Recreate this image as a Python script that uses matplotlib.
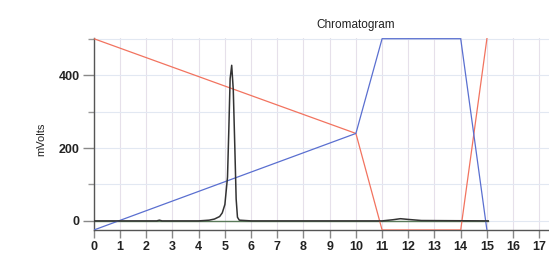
import matplotlib
matplotlib.use('Agg')
import matplotlib.pyplot as plt
from matplotlib.ticker import FixedLocator

plt.rcParams['font.family'] = ['Liberation Sans', 'DejaVu Sans']

# Sinal do detector (mV)
tempo = [0.0, 2.4, 2.5, 2.6, 4.0, 4.4, 4.6, 4.8, 4.9, 5.0, 5.1, 5.15, 5.2, 5.26,
         5.32, 5.38, 5.43, 5.48, 5.55, 6.0, 11.0, 11.4, 11.7, 12.0, 12.5, 15.05]
sinal = [0, 0, 2, 0, 0, 2, 5, 12, 22, 45, 120, 250, 390, 427,
         360, 200, 60, 10, 2, 0, 0, 3, 6, 4, 1, 0]

# Perfis do gradiente (escala em mV do gráfico)
tempo_a = [0, 10, 11, 14, 15]
grad_a = [500, 240, -25, -25, 500]
tempo_b = [0, 10, 11, 14, 15]
grad_b = [-25, 240, 500, 500, -25]

x_ticks = list(range(0, 18))
y_major = [0, 200, 400]
y_minor = [100, 300, 500]

fig = plt.figure(figsize=(5.49, 2.54), dpi=100)
ax = fig.add_axes([0.171, 0.0945, 0.829, 0.756])

ax.plot(tempo_a, grad_a, color='#f2735f', lw=0.9, zorder=3)
ax.plot(tempo_b, grad_b, color='#5a6fd0', lw=0.9, zorder=3)
ax.plot([0, 15.05], [0, 0], color='#5a7a5a', lw=1.0, zorder=2)
ax.plot(tempo, sinal, color='#333333', lw=1.1, zorder=4)

ax.set_xlim(0, 17.37)
ax.set_ylim(-25, 502)

ax.xaxis.set_major_locator(FixedLocator(x_ticks))
ax.yaxis.set_major_locator(FixedLocator(y_major))
ax.yaxis.set_minor_locator(FixedLocator(y_minor))

ax.grid(True, which='major', axis='x', color='#e6e0ea', lw=0.8)
ax.grid(True, which='both', axis='y', color='#e2e8f2', lw=0.8)
ax.set_axisbelow(True)

for s in ['top', 'right']:
    ax.spines[s].set_visible(False)
for s in ['left', 'bottom']:
    ax.spines[s].set_color('#555555')
    ax.spines[s].set_linewidth(1.0)

ax.tick_params(axis='y', which='major', length=8, width=1, color='#888888',
               labelsize=9, labelcolor='#222222', pad=2)
ax.tick_params(axis='x', which='major', length=6, width=1, color='#888888',
               labelsize=9, labelcolor='#222222', pad=2)
ax.tick_params(axis='y', which='minor', length=4, width=1, color='#999999')

for lab in ax.get_xticklabels() + ax.get_yticklabels():
    lab.set_fontweight('bold')

ax.set_ylabel('mVolts', fontsize=8, color='#222222')
ax.yaxis.set_label_coords(-0.105, 0.47)

fig.text(356 / 549, 1 - 25 / 254, 'Chromatogram', ha='center', va='center',
         fontsize=8.5, color='#222222')

fig.savefig('out.png', dpi=100)
